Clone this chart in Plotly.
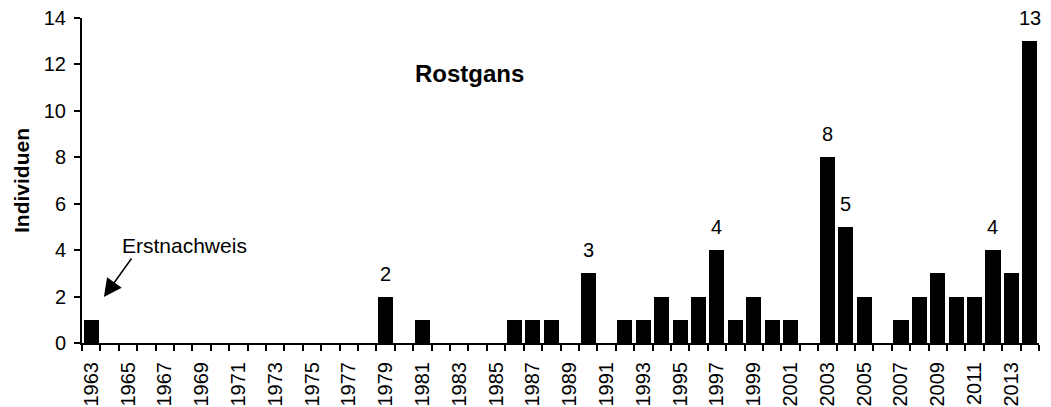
import plotly.graph_objects as go

# Rostgans - Individuen pro Jahr
years = list(range(1963, 2015))
counts = [1, 0, 0, 0, 0, 0, 0, 0, 0, 0,   # 1963-1972
          0, 0, 0, 0, 0, 0, 2, 0, 1, 0,   # 1973-1982
          0, 0, 0, 1, 1, 1, 0, 3, 0, 1,   # 1983-1992
          1, 2, 1, 2, 4, 1, 2, 1, 1, 0,   # 1993-2002
          8, 5, 2, 0, 1, 2, 3, 2, 2, 4,   # 2003-2012
          3, 13]                          # 2013-2014
labeled_years = [1979, 1990, 1997, 2003, 2004, 2012, 2014]
tick_years = list(range(1963, 2014, 2))

FONT = "Arial, Liberation Sans, sans-serif"

fig = go.Figure()
fig.add_trace(go.Bar(
  x=years, y=counts, width=0.82,
  marker=dict(color="black", line=dict(width=0)),
  hoverinfo="x+y",
))

# value labels over selected bars
for yr in labeled_years:
  v = counts[years.index(yr)]
  fig.add_annotation(x=yr, y=v, text=str(v), showarrow=False,
                     yanchor="bottom", yshift=10,
                     font=dict(size=20, color="black", family=FONT))

# species name
fig.add_annotation(x=0.405, y=0.83, xref="paper", yref="paper",
                   xanchor="center", yanchor="middle",
                   text="<b>Rostgans</b>", showarrow=False,
                   font=dict(size=24, color="black", family=FONT))

# first record note + arrow
fig.add_annotation(x=0.1066, y=0.2985, xref="paper", yref="paper",
                   xanchor="center", yanchor="middle",
                   text="Erstnachweis", showarrow=False,
                   font=dict(size=21, color="black", family=FONT))
fig.add_annotation(x=years[0] + 0.69, y=1.98, ax=years[0] + 2.21, ay=3.66,
                   xref="x", yref="y", axref="x", ayref="y",
                   text="", showarrow=True, arrowhead=2, arrowsize=2.4,
                   arrowwidth=1.5, arrowcolor="black", borderpad=0)

# page body has an 8px margin, so the figure is 8px smaller each way
fig.update_layout(
  width=1043, height=399,
  margin=dict(l=74, r=12, t=10, b=64),
  paper_bgcolor="white", plot_bgcolor="white",
  showlegend=False, bargap=0,
  font=dict(family=FONT, color="black"),
)
fig.update_xaxes(
  type="linear", range=[years[0] - 0.5, years[-1] + 0.5],
  tickvals=tick_years, ticktext=[str(y) for y in tick_years],
  tickangle=-90, tickfont=dict(size=20, family=FONT, color="black"),
  ticks="outside", ticklen=6, tickcolor="rgba(0,0,0,0)", ticklabelstandoff=3,
  minor=dict(tick0=years[0] - 0.5, dtick=1, ticks="outside", ticklen=6,
             tickwidth=2, tickcolor="black", showgrid=False),
  showline=True, linecolor="black", linewidth=2,
  showgrid=False, zeroline=False, automargin=False,
  ticklabeloverflow="allow",
)
fig.update_yaxes(
  range=[0, 14.001], tickvals=list(range(0, 15, 2)),
  tickfont=dict(size=20, family=FONT, color="black"),
  ticks="outside", ticklen=6, tickwidth=2, tickcolor="black",
  ticklabelstandoff=4, ticklabeloverflow="allow",
  showline=True, linecolor="black", linewidth=2,
  showgrid=False, zeroline=False, automargin=False,
  title=dict(text="<b>Individuen</b>", standoff=8,
             font=dict(size=21, family=FONT, color="black")),
)

fig.write_html("out.html")
